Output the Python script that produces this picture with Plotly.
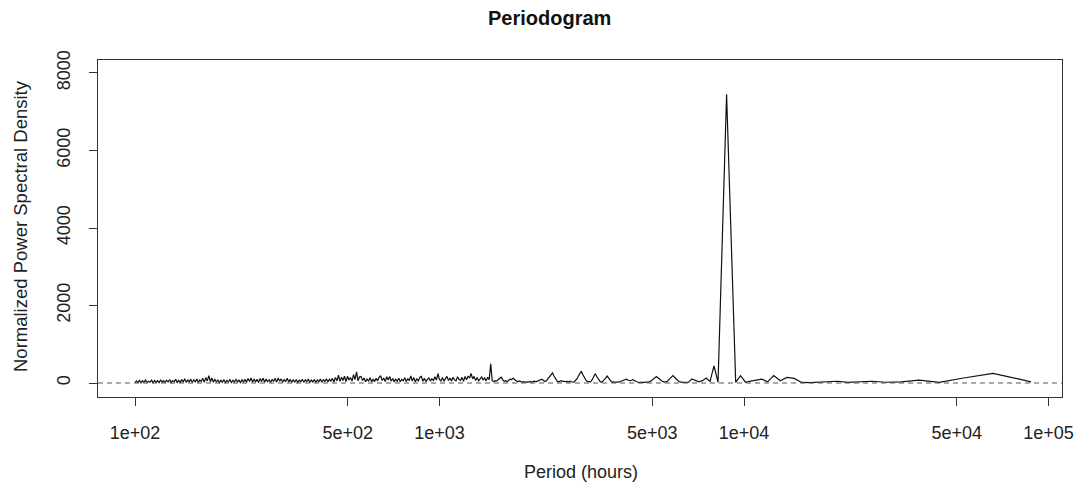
import numpy as np
import plotly.graph_objects as go

# Spectral grid: total record length in hours; low-order bins are resolved individually
RECORD_HOURS = 262980.0

# Bins k = 100 .. 3 (periods RECORD_HOURS / k), low to high period
bin_index = list(range(100, 2, -1))
bin_power = [
    40, 25, 50, 30, 20,                         # k 100-96
    30, 60, 110, 180, 260, 300, 220, 140, 80, 40, 25,   # k 95-85
    30, 80, 170, 240, 160, 80, 35,              # k 84-78
    25, 60, 120, 180, 110, 50, 25,              # k 77-71
    20, 15, 25, 40, 55, 80, 100, 70, 60, 85, 50, 25,    # k 70-59
    15, 10, 15, 25, 30, 60, 120, 165, 110, 50, 25,      # k 58-48
    40, 120, 190, 110, 40,                      # k 47-43
    15, 10, 20,                                 # k 42-40
    105, 60, 30,                                # k 39-37
    60, 130, 40,                                # k 36-34
    440, 20,                                    # k 33-32
    3700, 7450, 3800,                           # k 31-29
    15, 190, 20, 50, 70, 100, 30, 190, 60, 145, 120,    # k 28-18
    15, 10, 15, 20, 45, 15, 20, 45, 20, 30, 75, 15,     # k 17-6
    130, 250, 30,                               # k 5-3
]

# Short-period band (100 h up to the k = 101 bin), thinned for display
band_power = [
    8, 55, 12, 70, 5, 62, 18, 80, 10, 48, 22, 75, 6, 66, 15, 58, 9, 85, 20, 60,
    12, 72, 25, 90, 8, 64, 30, 95, 14, 70, 10, 88, 24, 110, 16, 76, 35, 100, 12, 82,
    28, 105, 15, 80, 40, 120, 20, 140, 55, 190, 35, 130, 18, 90, 30, 78, 10, 70, 22, 86,
    10, 68, 28, 84, 12, 72, 20, 90, 32, 70, 10, 85, 26, 96, 16, 115, 38, 130, 22, 105,
    28, 95, 14, 118, 42, 125, 18, 100, 32, 84, 16, 98, 38, 120, 22, 130, 45, 105, 18, 90,
    40, 125, 28, 95, 14, 80, 26, 88, 12, 72, 32, 96, 18, 82, 38, 105, 16, 75, 28, 92,
    14, 80, 35, 100, 20, 86, 42, 110, 28, 96, 48, 120, 25, 145, 55, 200, 42, 150, 65, 175,
    38, 175, 80, 140, 50, 215, 90, 290, 55, 160, 170, 65, 130, 32, 110, 45, 140, 28, 95, 42,
    120, 55, 150, 180, 65, 130, 40, 160, 75, 170, 50, 115, 28, 100, 45, 125, 32, 90, 55, 135,
    40, 110, 65, 180, 50, 140, 32, 105, 55, 150, 170, 45, 120, 38, 95, 130, 50, 110, 60, 160,
    75, 245, 95, 55, 140, 42, 115, 170, 65, 130, 50, 150, 80, 55, 160, 95, 70, 145, 45, 170,
    85, 180, 125, 245, 105, 170, 65, 140, 55, 115, 160, 75, 130, 55, 150, 85, 495, 65, 35, 60,
    55, 90, 120, 150, 80, 45, 60, 35, 70, 100, 90, 125, 85, 45, 30, 55, 40, 25, 35, 20,
    30, 25, 40, 20, 35, 50, 30, 45, 70, 90, 100, 65, 40, 60, 110, 170, 230, 262, 180, 100,
    50, 30, 45, 60, 40, 30, 35,
]

x_tick_vals = [100, 500, 1000, 5000, 10000, 50000, 100000]
x_tick_text = ["1e+02", "5e+02", "1e+03", "5e+03", "1e+04", "5e+04", "1e+05"]
y_tick_vals = [0, 2000, 4000, 6000, 8000]

band_period = np.geomspace(100.0, RECORD_HOURS / 101, len(band_power))
bin_period = RECORD_HOURS / np.array(bin_index, dtype=float)

period = np.concatenate([band_period, bin_period])
power = np.array(band_power + bin_power, dtype=float)

FONT = "Liberation Sans, Arial, Helvetica, sans-serif"

fig = go.Figure()
fig.add_trace(go.Scatter(
    x=period, y=power, mode="lines",
    line=dict(color="#111111", width=1.2),
    hoverinfo="skip", showlegend=False,
))

# zero reference line
fig.add_shape(type="line", xref="paper", yref="y", x0=0, x1=1, y0=0, y1=0,
              line=dict(color="#555555", width=1, dash="5px,4px"))

fig.update_layout(
    width=1080, height=489,
    margin=dict(l=98, r=18, t=60, b=92),
    paper_bgcolor="white", plot_bgcolor="white",
    font=dict(family=FONT, size=18, color="#222222"),
    showlegend=False,
)

fig.update_xaxes(
    type="log", range=[1.8785, 5.0443], automargin=False,
    tickvals=x_tick_vals, ticktext=x_tick_text,
    ticks="outside", ticklen=8, tickcolor="#333333", tickwidth=1,
    showline=True, linecolor="#333333", linewidth=1, mirror=True,
    showgrid=False, zeroline=False, ticklabelstandoff=11,
    tickfont=dict(size=18),
)
fig.update_yaxes(
    range=[-361, 8335], automargin=False,
    tickvals=y_tick_vals, ticktext=[str(v) for v in y_tick_vals],
    tickangle=-90,
    ticks="outside", ticklen=8, tickcolor="#333333", tickwidth=1,
    showline=True, linecolor="#333333", linewidth=1, mirror=True,
    showgrid=False, zeroline=False, ticklabelstandoff=12,
    tickfont=dict(size=18),
)

PW, PH = 964.0, 337.0  # plot-area size in pixels

fig.add_annotation(text="<b>Periodogram</b>", xref="paper", yref="paper",
                   x=(549 - 98) / PW, y=1 + (60 - 18) / PH,
                   showarrow=False, font=dict(size=20, color="#111111"),
                   xanchor="center", yanchor="middle")
fig.add_annotation(text="Period (hours)", xref="paper", yref="paper",
                   x=(581 - 98) / PW, y=-(472 - 397) / PH,
                   showarrow=False, font=dict(size=18),
                   xanchor="center", yanchor="middle")
fig.add_annotation(text="Normalized Power Spectral Density", xref="paper", yref="paper",
                   x=-(98 - 20) / PW, y=(397 - 226) / PH, textangle=-90,
                   showarrow=False, font=dict(size=18.5),
                   xanchor="center", yanchor="middle")

fig.write_html("out.html")
